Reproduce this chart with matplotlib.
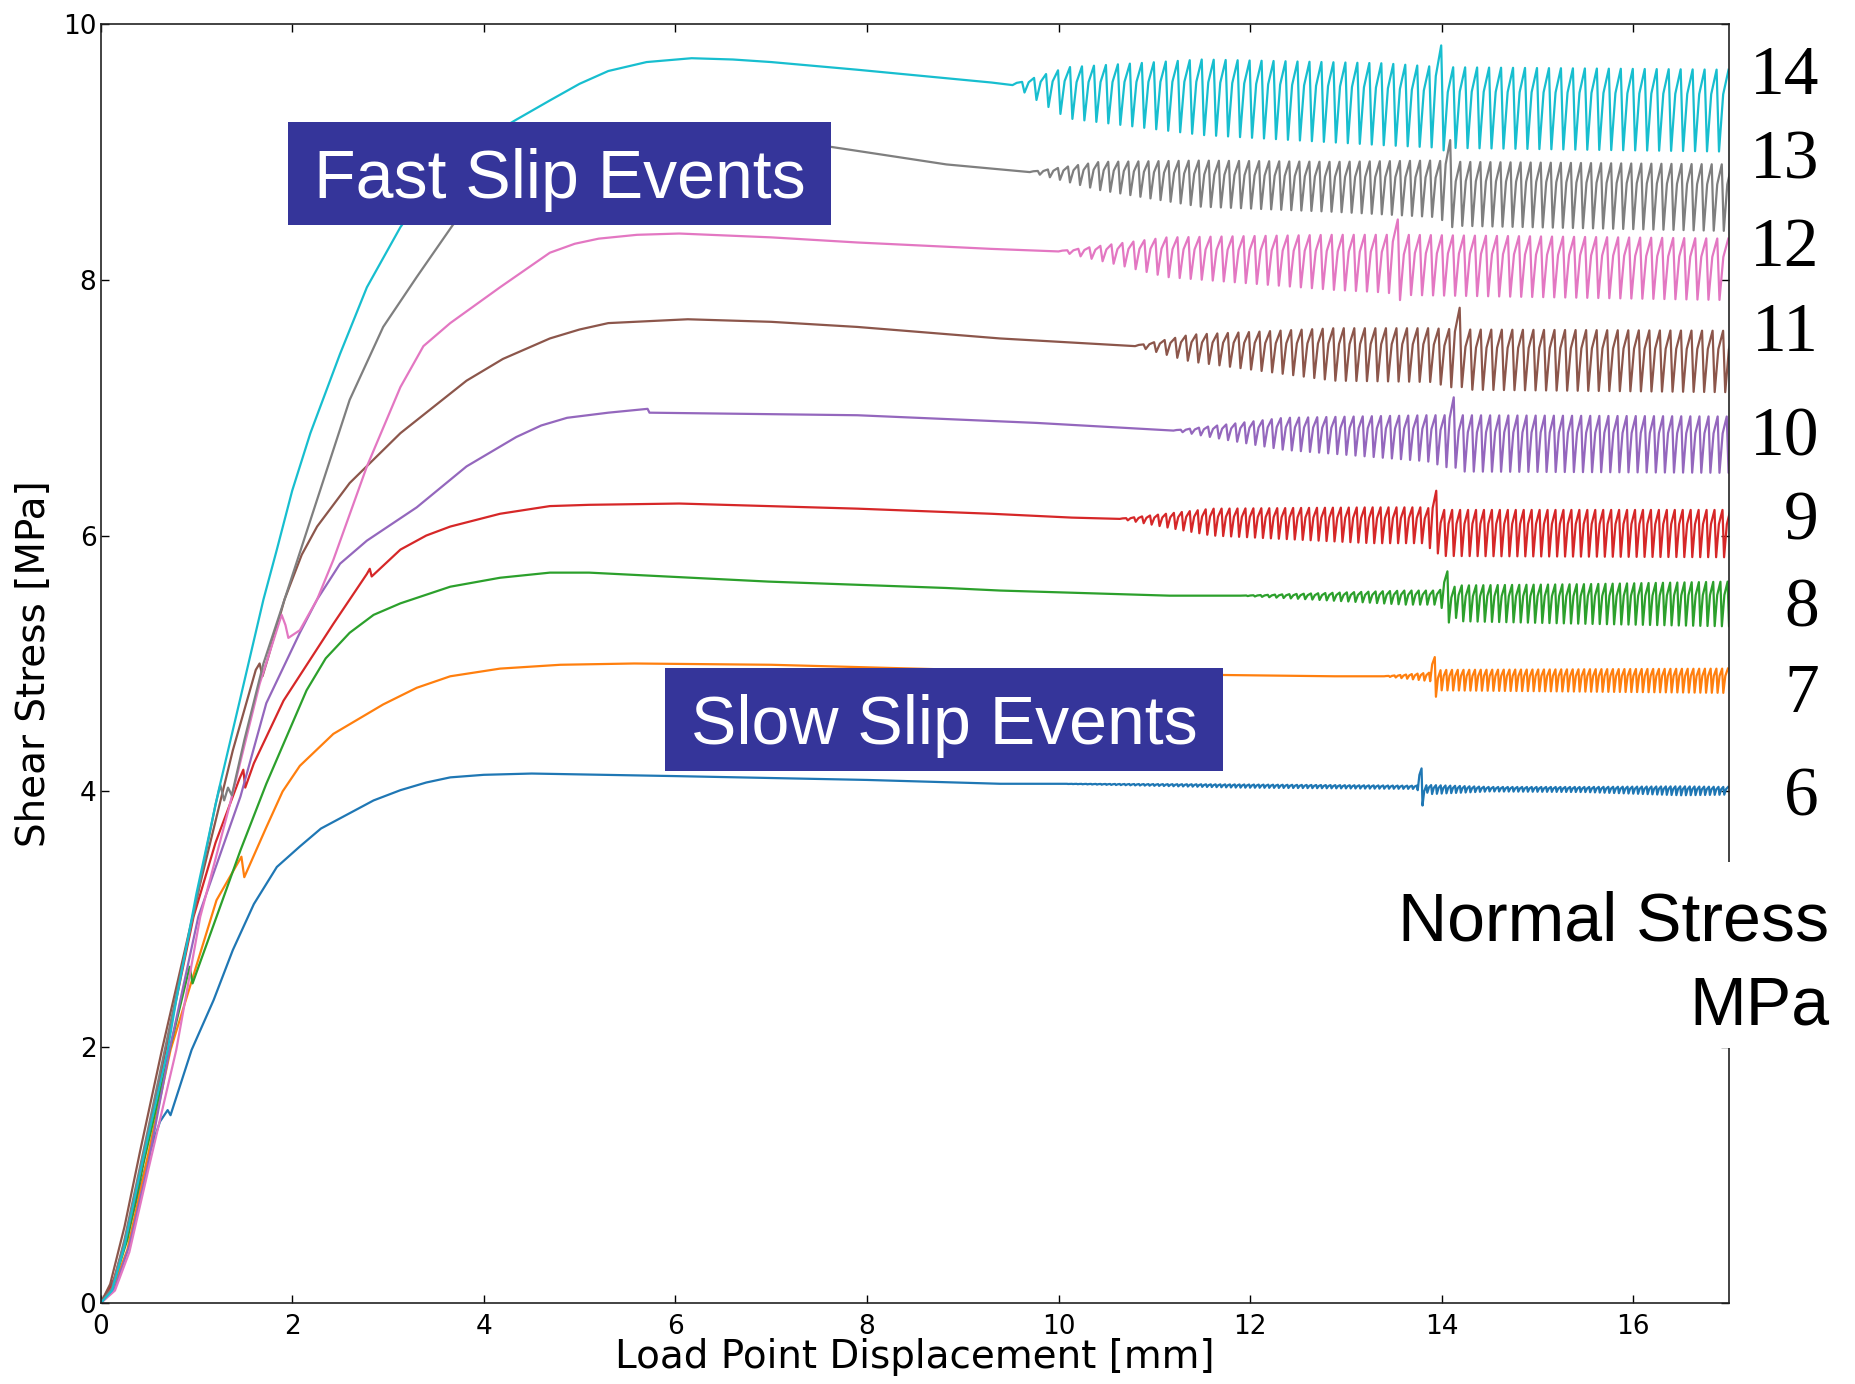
import numpy as np
import matplotlib
matplotlib.use('Agg')
import matplotlib.pyplot as plt
import matplotlib.transforms as mtransforms
from matplotlib.patches import Rectangle

# normal stress of each run [MPa]
normal_stress = [6, 7, 8, 9, 10, 11, 12, 13, 14]

# loading part + steady sliding (displacement mm, shear stress MPa)
load_6_x = [0, 0.15, 0.30, 0.50, 0.62, 0.70, 0.73, 0.95, 1.18, 1.38, 1.60, 1.84, 2.08, 2.30, 2.60, 2.85, 3.13, 3.40, 3.65, 4.00, 4.50, 6.00, 8.00, 9.39, 10.00]
load_6_y = [0, 0.20, 0.60, 1.15, 1.42, 1.51, 1.47, 1.98, 2.37, 2.76, 3.12, 3.41, 3.57, 3.71, 3.83, 3.93, 4.01, 4.07, 4.11, 4.13, 4.14, 4.12, 4.09, 4.06, 4.06]
load_7_x = [0, 0.12, 0.28, 0.45, 0.73, 1.21, 1.47, 1.50, 1.73, 1.90, 2.08, 2.43, 2.95, 3.30, 3.65, 4.17, 4.80, 5.57, 7.00, 9.00, 11.73, 12.88, 13.40]
load_7_y = [0, 0.10, 0.42, 1.00, 1.98, 3.15, 3.49, 3.33, 3.72, 4.00, 4.20, 4.45, 4.68, 4.81, 4.90, 4.96, 4.99, 5.00, 4.99, 4.95, 4.91, 4.90, 4.90]
load_8_x = [0, 0.12, 0.28, 0.45, 0.72, 0.93, 0.96, 1.21, 1.46, 1.73, 2.15, 2.35, 2.60, 2.85, 3.13, 3.65, 4.17, 4.69, 5.10, 6.97, 8.83, 9.39, 11.16, 11.90]
load_8_y = [0, 0.12, 0.50, 1.10, 1.98, 2.63, 2.50, 3.02, 3.54, 4.06, 4.79, 5.04, 5.24, 5.38, 5.47, 5.60, 5.67, 5.71, 5.71, 5.64, 5.59, 5.57, 5.53, 5.53]
load_9_x = [0, 0.12, 0.28, 0.45, 0.68, 0.97, 1.20, 1.45, 1.49, 1.51, 1.60, 1.91, 2.43, 2.78, 2.81, 2.83, 3.13, 3.40, 3.65, 4.17, 4.69, 5.10, 6.04, 7.90, 9.30, 10.14, 10.64]
load_9_y = [0, 0.14, 0.55, 1.15, 1.98, 3.02, 3.60, 4.10, 4.17, 4.03, 4.22, 4.71, 5.31, 5.70, 5.74, 5.68, 5.89, 6.00, 6.07, 6.17, 6.23, 6.24, 6.25, 6.21, 6.17, 6.14, 6.13]
load_10_x = [0, 0.15, 0.30, 0.50, 0.72, 1.02, 1.46, 1.73, 2.08, 2.26, 2.50, 2.78, 3.30, 3.82, 4.34, 4.60, 4.87, 5.30, 5.71, 5.73, 7.90, 9.77, 11.20]
load_10_y = [0, 0.12, 0.45, 1.10, 1.98, 3.02, 3.96, 4.69, 5.24, 5.50, 5.78, 5.96, 6.22, 6.54, 6.77, 6.86, 6.92, 6.96, 6.99, 6.96, 6.94, 6.88, 6.82]
load_11_x = [0, 0.10, 0.25, 0.41, 0.64, 1.04, 1.38, 1.62, 1.66, 1.69, 1.75, 1.92, 2.10, 2.26, 2.60, 3.13, 3.82, 4.20, 4.69, 5.00, 5.30, 6.13, 7.00, 7.90, 9.39, 10.80]
load_11_y = [0, 0.15, 0.60, 1.18, 1.98, 3.28, 4.32, 4.95, 5.00, 4.90, 5.05, 5.50, 5.85, 6.07, 6.41, 6.80, 7.21, 7.38, 7.54, 7.61, 7.66, 7.69, 7.67, 7.63, 7.54, 7.48]
load_12_x = [0, 0.15, 0.30, 0.50, 0.79, 1.04, 1.35, 1.66, 1.89, 1.93, 1.96, 2.08, 2.26, 2.43, 2.78, 3.13, 3.37, 3.65, 4.17, 4.69, 4.95, 5.20, 5.60, 6.04, 7.00, 7.90, 9.30, 10.00]
load_12_y = [0, 0.10, 0.40, 1.05, 1.98, 3.02, 3.90, 4.84, 5.38, 5.30, 5.20, 5.26, 5.50, 5.81, 6.54, 7.16, 7.48, 7.66, 7.94, 8.21, 8.28, 8.32, 8.35, 8.36, 8.33, 8.29, 8.24, 8.22]
load_13_x = [0, 0.12, 0.25, 0.45, 0.67, 1.00, 1.20, 1.25, 1.29, 1.33, 1.37, 1.50, 1.70, 1.92, 2.26, 2.60, 2.95, 3.30, 3.68, 4.20, 5.00, 5.80, 6.60, 7.60, 8.83, 9.70]
load_13_y = [0, 0.12, 0.50, 1.20, 1.98, 3.15, 3.90, 4.05, 3.93, 4.03, 3.97, 4.40, 5.00, 5.50, 6.28, 7.06, 7.63, 8.02, 8.43, 8.75, 9.00, 9.08, 9.08, 9.04, 8.90, 8.84]
load_14_x = [0, 0.12, 0.25, 0.45, 0.70, 0.79, 1.00, 1.23, 1.45, 1.70, 1.84, 2.00, 2.19, 2.50, 2.78, 3.13, 3.50, 4.00, 4.34, 4.69, 5.00, 5.30, 5.70, 6.17, 6.60, 7.00, 7.45, 7.90, 8.60, 9.30, 9.52]
load_14_y = [0, 0.10, 0.45, 1.15, 1.98, 2.37, 3.20, 4.00, 4.70, 5.50, 5.89, 6.35, 6.80, 7.42, 7.94, 8.41, 8.80, 9.10, 9.25, 9.40, 9.53, 9.63, 9.70, 9.73, 9.72, 9.70, 9.67, 9.64, 9.59, 9.54, 9.52]

# stick-slip envelope (displacement, upper and lower stress)
slip_6_x = [10.00, 11.88, 13.70, 13.90, 14.50, 15.50, 16.50, 17.00]
slip_6_hi = [4.06, 4.055, 4.045, 4.05, 4.035, 4.035, 4.04, 4.035]
slip_6_lo = [4.06, 4.03, 4.02, 3.98, 4.00, 3.995, 3.97, 3.975]
slip_7_x = [13.40, 13.90, 14.00, 17.00]
slip_7_hi = [4.90, 4.93, 4.95, 4.96]
slip_7_lo = [4.90, 4.86, 4.79, 4.77]
slip_8_x = [11.90, 13.62, 13.95, 14.20, 15.50, 17.00]
slip_8_hi = [5.53, 5.57, 5.57, 5.61, 5.62, 5.64]
slip_8_lo = [5.53, 5.46, 5.46, 5.33, 5.31, 5.29]
slip_9_x = [10.64, 11.60, 13.27, 13.80, 14.00, 17.00]
slip_9_hi = [6.13, 6.21, 6.22, 6.22, 6.20, 6.20]
slip_9_lo = [6.13, 6.00, 5.94, 5.94, 5.84, 5.83]
slip_10_x = [11.20, 12.35, 13.85, 14.20, 17.00]
slip_10_hi = [6.82, 6.92, 6.94, 6.94, 6.93]
slip_10_lo = [6.82, 6.67, 6.58, 6.50, 6.49]
slip_11_x = [10.80, 11.38, 12.88, 13.88, 14.20, 17.00]
slip_11_hi = [7.48, 7.57, 7.62, 7.62, 7.61, 7.60]
slip_11_lo = [7.48, 7.36, 7.21, 7.20, 7.14, 7.12]
slip_12_x = [10.00, 10.60, 11.13, 12.87, 13.40, 13.60, 17.00]
slip_12_hi = [8.22, 8.28, 8.33, 8.35, 8.35, 8.35, 8.32]
slip_12_lo = [8.22, 8.12, 8.02, 7.92, 7.90, 7.88, 7.84]
slip_13_x = [9.70, 10.43, 11.48, 12.87, 13.90, 14.20, 17.00]
slip_13_hi = [8.84, 8.92, 8.93, 8.92, 8.93, 8.92, 8.90]
slip_13_lo = [8.84, 8.70, 8.57, 8.53, 8.49, 8.42, 8.38]
slip_14_x = [9.52, 9.80, 10.10, 11.50, 13.40, 14.00, 17.00]
slip_14_hi = [9.52, 9.59, 9.66, 9.72, 9.69, 9.66, 9.64]
slip_14_lo = [9.52, 9.39, 9.26, 9.13, 9.05, 9.03, 9.00]

# slip cycle length [mm] and the large event near 14 mm (x, peak, drop)
slip_period = [0.05, 0.06, 0.075, 0.083, 0.095, 0.11, 0.115, 0.105, 0.125]
spike_x = [13.79, 13.93, 14.07, 13.88, 14.12, 14.13, 13.46, 14.10, 13.93]
spike_hi = [4.18, 5.05, 5.72, 6.35, 7.08, 7.78, 8.47, 9.09, 9.83]
spike_lo = [3.89, 4.74, 5.32, 5.86, 6.53, 7.16, 7.84, 8.41, 9.01]

colors = ['#1f77b4', '#ff7f0e', '#2ca02c', '#d62728', '#9467bd',
          '#8c564b', '#e377c2', '#7f7f7f', '#17becf']
# where the normal stress numbers sit (data y)
label_y = [3.94, 4.75, 5.42, 6.10, 6.76, 7.57, 8.24, 8.92, 9.58]


def stick_slip(ex, ehi, elo, period, sx, shi, slo):
    xs, ys = [], []
    x = ex[0]
    big_drop = False
    while x < ex[-1]:
        lo = slo if big_drop else np.interp(x, ex, elo)
        big_drop = False
        hi = np.interp(x + 0.8 * period, ex, ehi)
        if x <= sx < x + period:
            hi = shi
            big_drop = True
        xs += [x, x + 0.35 * period, x + 0.8 * period]
        ys += [lo, lo + 0.7 * (hi - lo), hi]
        x += period
    return xs, ys


loads = [(load_6_x, load_6_y), (load_7_x, load_7_y), (load_8_x, load_8_y),
         (load_9_x, load_9_y), (load_10_x, load_10_y), (load_11_x, load_11_y),
         (load_12_x, load_12_y), (load_13_x, load_13_y), (load_14_x, load_14_y)]
slips = [(slip_6_x, slip_6_hi, slip_6_lo), (slip_7_x, slip_7_hi, slip_7_lo),
         (slip_8_x, slip_8_hi, slip_8_lo), (slip_9_x, slip_9_hi, slip_9_lo),
         (slip_10_x, slip_10_hi, slip_10_lo), (slip_11_x, slip_11_hi, slip_11_lo),
         (slip_12_x, slip_12_hi, slip_12_lo), (slip_13_x, slip_13_hi, slip_13_lo),
         (slip_14_x, slip_14_hi, slip_14_lo)]

fig = plt.figure(figsize=(18.56, 13.84), dpi=100)
ax = fig.add_axes([0.0542, 0.0583, 0.8774, 0.9246])

for i in range(len(normal_stress)):
    lx, ly = loads[i]
    ex, ehi, elo = slips[i]
    sx, sy = stick_slip(ex, ehi, elo, slip_period[i], spike_x[i], spike_hi[i], spike_lo[i])
    ax.plot(list(lx) + sx, list(ly) + sy, color=colors[i], linewidth=1.6)

ax.set_xlim(0, 17)
ax.set_ylim(0, 10)
ax.set_xticks([0, 2, 4, 6, 8, 10, 12, 14, 16])
ax.set_yticks([0, 2, 4, 6, 8, 10])
ax.tick_params(direction='in', length=6, width=1, labelsize=19, top=True, right=True)
ax.tick_params(axis='x', pad=8)
ax.tick_params(axis='y', pad=3)
for sp in ax.spines.values():
    sp.set_linewidth(1.2)
    sp.set_color('#222222')

ax.set_xlabel('Load Point Displacement [mm]', fontsize=28)
ax.set_ylabel('Shear Stress [MPa]', fontsize=28)
ax.xaxis.set_label_coords(0.5, -0.027)
ax.yaxis.set_label_coords(-0.029, 0.5)

# normal stress numbers on the right
trans = mtransforms.blended_transform_factory(fig.transFigure, ax.transData)
for s, yy in zip(normal_stress, label_y):
    fig.text(0.980, yy, str(s), transform=trans, ha='right', va='center',
             fontsize=50, family='Liberation Serif')

# white patch behind "Normal Stress MPa" (hides part of the right spine)
fig.add_artist(Rectangle((0.7435, 0.2428), 0.2565, 0.1344, transform=fig.transFigure,
                         facecolor='white', edgecolor='none', zorder=2))
fig.text(0.9855, 0.3201, 'Normal Stress', ha='right', va='baseline', fontsize=49,
         family='Liberation Sans', zorder=3)
fig.text(0.9855, 0.2594, 'MPa', ha='right', va='baseline', fontsize=49,
         family='Liberation Sans', zorder=3)

# annotation boxes
box_color = '#35359a'
fig.add_artist(Rectangle((0.1552, 0.8374), 0.2926, 0.0744, transform=fig.transFigure,
                         facecolor=box_color, edgecolor='none', zorder=2))
fig.text(0.3015, 0.8567, 'Fast Slip Events', ha='center', va='baseline', color='white',
         fontsize=49, family='Liberation Sans', zorder=3)
fig.add_artist(Rectangle((0.3583, 0.4429), 0.3006, 0.0744, transform=fig.transFigure,
                         facecolor=box_color, edgecolor='none', zorder=2))
fig.text(0.5086, 0.4624, 'Slow Slip Events', ha='center', va='baseline', color='white',
         fontsize=49, family='Liberation Sans', zorder=3)

fig.savefig('out.png', dpi=100)
